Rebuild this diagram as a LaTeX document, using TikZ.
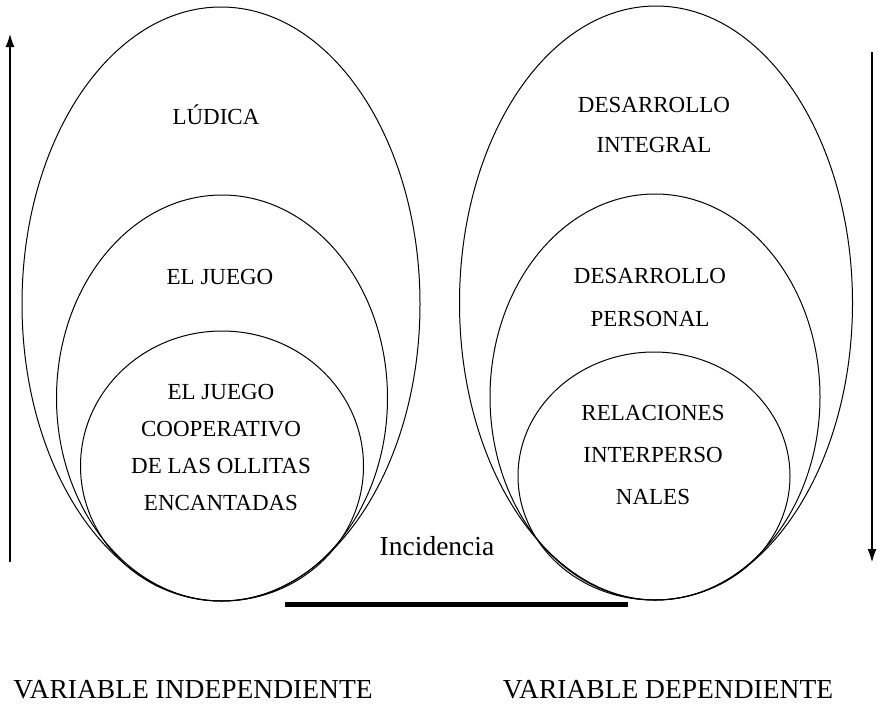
\documentclass[tikz,border=0pt]{standalone}
\usepackage{fontspec}
\setmainfont{Liberation Serif}
\usetikzlibrary{shapes.geometric,arrows.meta}
\begin{document}
\begin{tikzpicture}[x=1pt,y=-1pt,
  ell/.style={draw, ellipse, line width=1pt, inner sep=0pt},
  lbl/.style={font=\fontsize{23}{37}\selectfont, align=center, inner sep=0pt},
  big/.style={font=\fontsize{27.5}{30}\selectfont, inner sep=0pt},
  varrow/.style={line width=1.2pt, -{Latex[length=13pt,width=9pt]}}]
\useasboundingbox (0,0) rectangle (878,705);
% left figure
\node[ell, minimum width=398pt, minimum height=594pt] (lo) at (221,304) {};
\node[ell, minimum width=331pt, minimum height=406pt] (lm) at (222,398) {};
\node[ell, minimum width=283pt, minimum height=270pt] (li) at (222,466) {};
% right figure
\node[ell, minimum width=393pt, minimum height=594pt] (ro) at (656,303) {};
\node[ell, minimum width=330pt, minimum height=406pt] (rm) at (655,397) {};
\node[ell, minimum width=272pt, minimum height=248pt] (ri) at (654,476) {};
% texts
\node[lbl] (t1) at (216,115) {LÚDICA};
\node[lbl] (t2) at (220,277) {EL JUEGO};
\node[lbl] (t3) at (221,447) {EL JUEGO\\COOPERATIVO\\DE LAS OLLITAS\\ENCANTADAS};
\node[lbl, font=\fontsize{23}{40}\selectfont] (t4) at (654,125) {DESARROLLO\\INTEGRAL};
\node[lbl, font=\fontsize{23}{43}\selectfont] (t5) at (650,297) {DESARROLLO\\PERSONAL};
\node[lbl, font=\fontsize{23}{42}\selectfont] (t6) at (653,455) {RELACIONES\\INTERPERSO\\NALES};
\node[big] (inc) at (437,546) {Incidencia};
\node[big] (vi) at (193,690) {VARIABLE INDEPENDIENTE};
\node[big] (vd) at (668,690) {VARIABLE DEPENDIENTE};
% arrows and bar
\coordinate (a1) at (10,562);
\coordinate (a2) at (10,34);
\coordinate (b1) at (872,52);
\coordinate (b2) at (872,562);
\draw[varrow] (a1) -- (a2);
\draw[varrow] (b1) -- (b2);
\coordinate (c1) at (285,604);
\coordinate (c2) at (628,604);
\draw[line width=5pt] (c1) -- (c2);
\end{tikzpicture}
\end{document}
